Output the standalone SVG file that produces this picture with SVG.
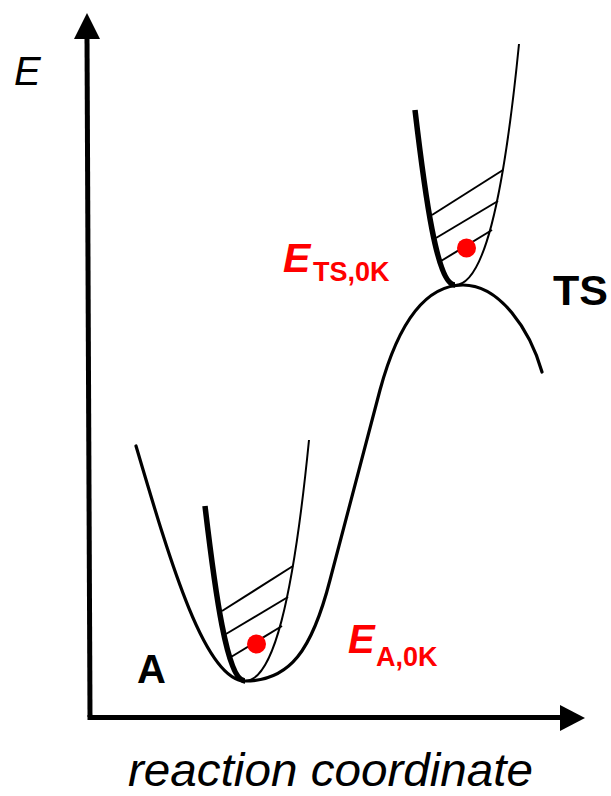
<svg xmlns="http://www.w3.org/2000/svg" width="611" height="796" viewBox="0 0 611 796">
<style>
.ax{stroke:#000;stroke-width:5;fill:none}
.curve{stroke:#000;stroke-width:3.2;fill:none;stroke-linecap:round}
.thick{stroke:#000;stroke-width:5.5;fill:none}
.thin{stroke:#000;stroke-width:2;fill:none}
.lbl{font-family:"Liberation Sans",Arial,sans-serif}
.red{fill:#FF0000}
</style>
<defs>
<g id="well">
<path class="thick" d="M-40,-175 C-30,-90 -18,0 0,0"/>
<path class="thin" d="M0,0 C28,0 48,-80 64,-241"/>
<line class="thin" x1="-23" y1="-70" x2="48" y2="-115"/>
<line class="thin" x1="-19" y1="-47" x2="43" y2="-84"/>
<line class="thin" x1="-14" y1="-24" x2="37" y2="-55"/>
<circle cx="11.5" cy="-37" r="9.5" fill="#FF0000"/>
</g>
</defs>
<rect width="611" height="796" fill="#fff"/>
<g id="axes">
<line class="ax" x1="90" y1="717" x2="87" y2="36"/>
<polygon points="87,13 100,39 74,39" fill="#000"/>
<line class="ax" x1="87.5" y1="717.5" x2="562" y2="717.5"/>
<polygon points="585,718 560,705 560,731" fill="#000"/>
</g>
<g id="pes">
<path class="curve" d="M136,446 C170,561 205,681 245,681 C290,681 312,650 330,580 L380,390 C395,335 420,285 463,285 C500,285 530,330 542,372"/>
</g>
<g id="well-A">
<use href="#well" transform="translate(245,681)"/>
</g>
<g id="well-TS">
<use href="#well" transform="translate(455,285)"/>
</g>
<g id="labels">
<text class="lbl" x="14" y="85" font-size="40" font-style="italic">E</text>
<text class="lbl" x="128" y="786" font-size="46" font-style="italic" textLength="405" lengthAdjust="spacingAndGlyphs">reaction coordinate</text>
<text class="lbl" x="137" y="683" font-size="40" font-weight="bold">A</text>
<text class="lbl" x="553" y="305" font-size="43" font-weight="bold">TS</text>
<text class="lbl red" x="283" y="272" font-size="41" font-weight="bold" font-style="italic">E</text>
<text class="lbl red" x="313" y="281" font-size="27" font-weight="bold">TS,0K</text>
<text class="lbl red" x="348" y="653" font-size="40" font-weight="bold" font-style="italic">E</text>
<text class="lbl red" x="376" y="666" font-size="27" font-weight="bold">A,0K</text>
</g>
</svg>
